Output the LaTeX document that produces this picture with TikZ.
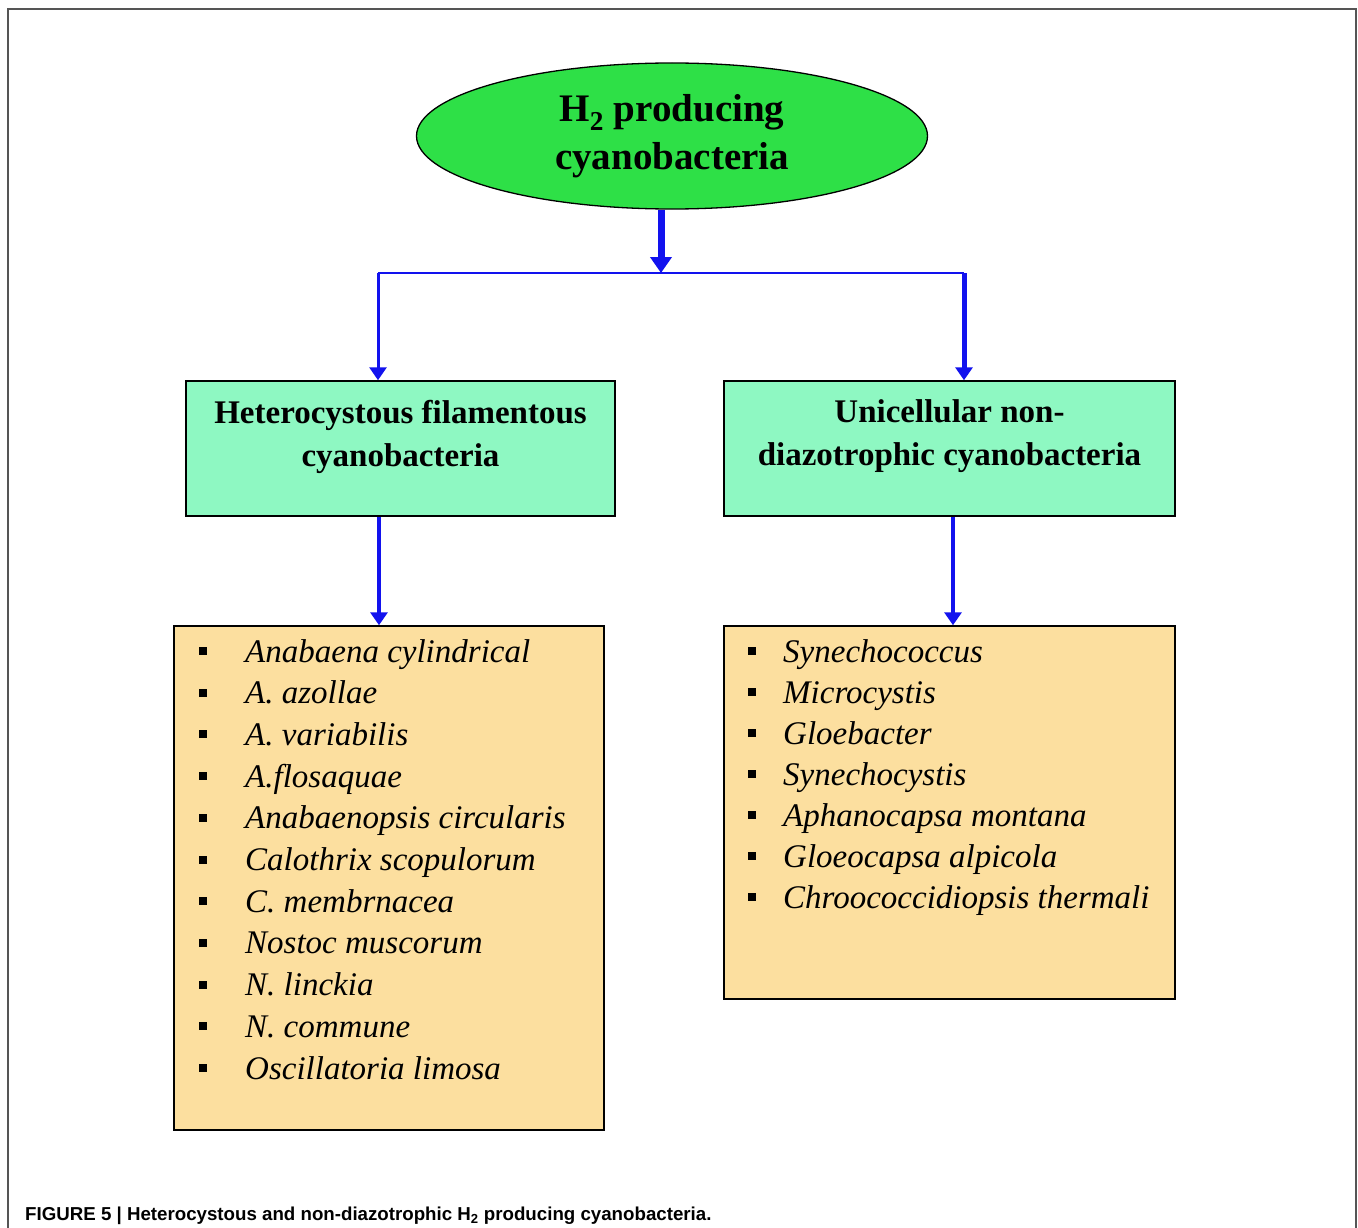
\documentclass[tikz,border=0pt]{standalone}
\usepackage{fontspec}
\setmainfont{Liberation Serif}
\newfontfamily\capfont{Liberation Sans}
\usetikzlibrary{shapes.geometric,arrows.meta}
\definecolor{rootgreen}{HTML}{2EE047}
\definecolor{mint}{HTML}{8EF8C2}
\definecolor{sand}{HTML}{FCDF9F}
\definecolor{linkblue}{HTML}{1212EE}
\definecolor{framegray}{HTML}{555555}

\begin{document}
\begin{tikzpicture}[x=1pt,y=-1pt,
  rootnode/.style={ellipse, draw=black, line width=1.3pt, fill=rootgreen,
    minimum width=511, minimum height=146, inner sep=0, align=center,
    font=\fontsize{39}{48}\selectfont\bfseries},
  groupbox/.style={rectangle, draw=black, line width=1.5pt, fill=mint,
    minimum height=135, inner sep=0},
  grouptitle/.style={inner sep=0, align=center,
    font=\fontsize{33}{43}\selectfont\bfseries},
  listbox/.style={rectangle, draw=black, line width=1.5pt, fill=sand, inner sep=0},
  entry/.style={anchor=base west, inner sep=0, font=\fontsize{33}{33}\selectfont\itshape},
  bullet/.style={fill=black},
  link/.style={draw=linkblue, line width=3pt},
  tip/.style={-{Triangle[width=17pt,length=13pt]}},
]
\useasboundingbox (0,0) rectangle (1358,1228);
\fill[white] (0,0) rectangle (1358,1228);

% outer frame (open at the bottom)
\draw[framegray, line width=2pt] (8,1228) -- (8,9) -- (1356,9) -- (1356,1228);

% nodes
\node[rootnode] (root) at (672,136) {H\textsubscript{2} producing\\cyanobacteria};
\node[groupbox, minimum width=429] (het) at (400.5,448.5) {};
\node[groupbox, minimum width=451] (uni) at (949.5,448.5) {};
\node[grouptitle] (hettitle) at ([yshift=12]het.center) {Heterocystous filamentous\\cyanobacteria};
\node[grouptitle] (unititle) at ([yshift=12]uni.center) {Unicellular non-\\diazotrophic cyanobacteria};
\node[listbox, minimum width=430, minimum height=504] (hetlist) at (389,878) {};
\node[listbox, minimum width=451, minimum height=373] (unilist) at (949.5,812.5) {};

% connectors
\coordinate (j) at (661,273);
\coordinate (jl) at (378,273);
\coordinate (jr) at (964,273);
\draw[link, line width=7pt, -{Triangle[width=21pt,length=16pt]}] (j |- root.south) -- (j);
\draw[link, line width=2.5pt] (jl) -- (jr);
\draw[link, tip] (jl) -- (jl |- het.north);
\draw[link, line width=5pt, tip] (jr) -- (jr |- uni.north);
\draw[link, line width=4pt, tip] (het.south -| 379,0) -- (hetlist.north -| 379,0);
\draw[link, line width=4pt, tip] (uni.south -| 953,0) -- (unilist.north -| 953,0);

% left list
\foreach \t [count=\i from 0] in {Anabaena cylindrical, A. azollae, A. variabilis,
    A.flosaquae, Anabaenopsis circularis, Calothrix scopulorum, C. membrnacea,
    Nostoc muscorum, N. linckia, N. commune, Oscillatoria limosa}{
  \fill[bullet] (199,{647+41.7*\i}) rectangle ++(8,8);
  \node[entry] (h\i) at (245,{662+41.7*\i}) {\t};
}
% right list
\foreach \t [count=\i from 0] in {Synechococcus, Microcystis, Gloebacter,
    Synechocystis, Aphanocapsa montana, Gloeocapsa alpicola,
    Chroococcidiopsis thermali}{
  \fill[bullet] (748,{647+41*\i}) rectangle ++(8,8);
  \node[entry] (u\i) at (783,{662+41*\i}) {\t};
}

% caption
\node[anchor=base west, inner sep=0, font=\capfont\bfseries\fontsize{18.7}{18.7}\selectfont] (cap) at (25,1220)
  {FIGURE 5 | Heterocystous and non-diazotrophic H\textsubscript{2} producing cyanobacteria.};
\end{tikzpicture}
\end{document}
